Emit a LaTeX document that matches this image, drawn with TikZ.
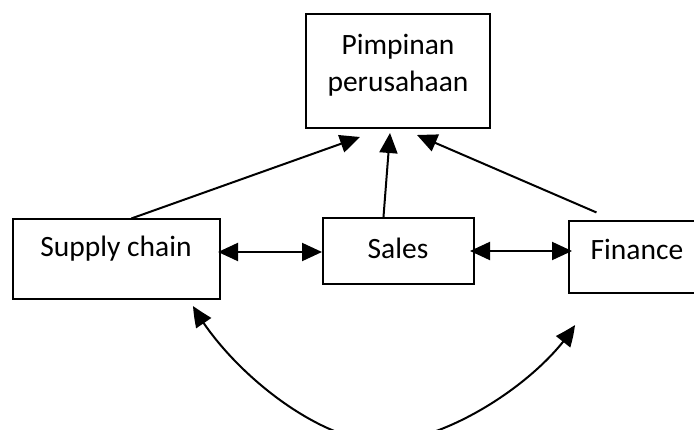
\documentclass[tikz,border=0pt]{standalone}
\usepackage{fontspec}
\setmainfont{Carlito}
\usetikzlibrary{arrows.meta,calc,bending}
\begin{document}
\begin{tikzpicture}[x=1pt,y=-1pt,
  box/.style={draw,line width=1.1pt,inner sep=0pt},
  lbl/.style={inner sep=0pt,font=\fontsize{29.5}{37}\selectfont,align=center},
  tip/.style={Triangle[length=20pt,width=18pt]},
  arr/.style={line width=2pt,-{Triangle[length=20pt,width=18pt]}},
  darr/.style={line width=2pt,{Triangle[length=20pt,width=18pt]}-{Triangle[length=20pt,width=18pt]}}]
\useasboundingbox (0,0) rectangle (694,430);
\clip (0,0) rectangle (694,430);
\node[box,minimum width=184pt,minimum height=114pt] (top) at (398,71) {};
\node[lbl] (toplbl) at (398,65) {Pimpinan\\perusahaan};
\node[box,minimum width=207pt,minimum height=80pt] (sc) at (116.5,259) {};
\node[lbl] (sclbl) at (116,249) {Supply chain};
\node[box,minimum width=151pt,minimum height=66pt] (sa) at (398.5,251) {};
\node[lbl] (salbl) at (398,248) {Sales};
\node[box,minimum width=140pt,minimum height=72pt] (fi) at (639,257) {};
\node[lbl] (filbl) at (637,249) {Finance};
\coordinate (t1) at (360,137);
\coordinate (t2) at (390,133);
\coordinate (t3) at (417,135);
\draw[arr] ($(sc.north west)+(119,0)$) -- (t1);
\draw[arr] ($(sa.north west)+(61,0)$) -- (t2);
\draw[arr] ($(fi.north west)+(28,-8)$) -- (t3);
\coordinate (h1) at (218,252);
\coordinate (h2) at (322,252);
\coordinate (h3) at (470,251);
\coordinate (h4) at (572,251);
\draw[darr] (h1) -- (h2);
\draw[darr] (h3) -- (h4);
\coordinate (c1) at (193,306);
\coordinate (c2) at (383,442);
\coordinate (c3) at (575,325);
\draw[line width=2pt,{Triangle[length=20pt,width=18pt,bend]}-{Triangle[length=20pt,width=18pt,bend]}]
  (c1) .. controls (230,372) and (320,442) .. (c2) .. controls (445,442) and (540,382) .. (c3);
\end{tikzpicture}
\end{document}
